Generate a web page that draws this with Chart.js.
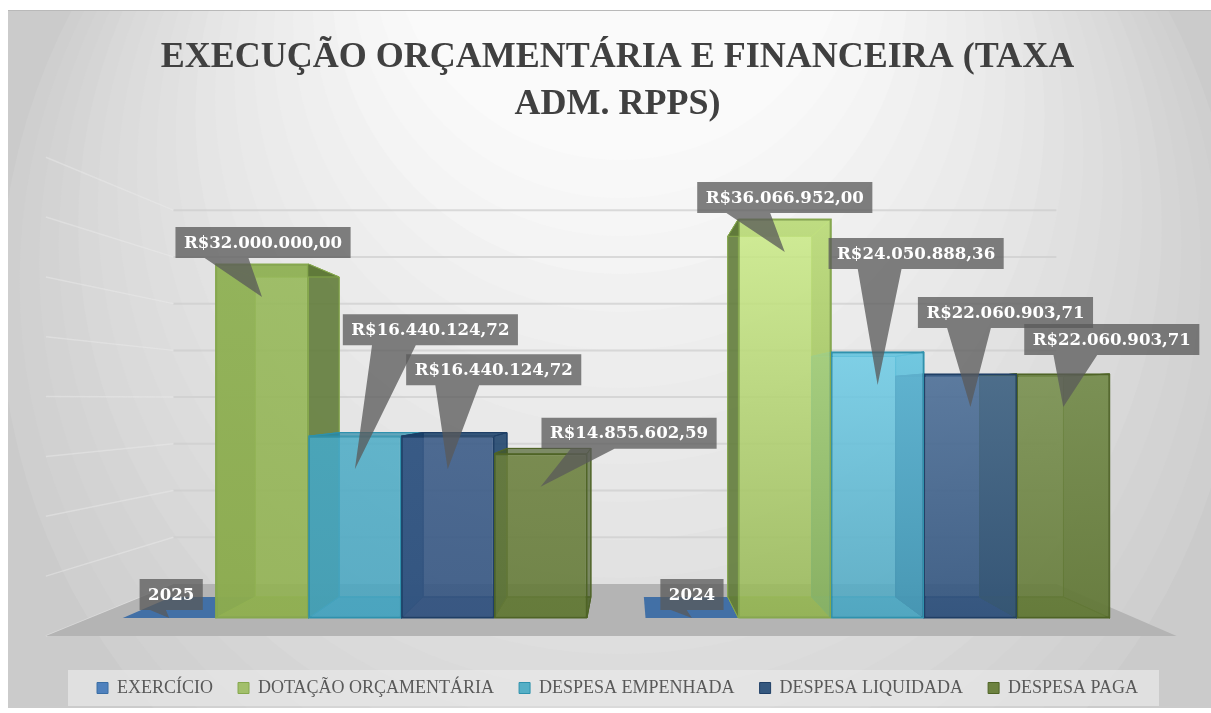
<!DOCTYPE html>
<html>
<head>
<meta charset="utf-8">
<title>Execução orçamentária e financeira</title>
<script src="https://cdn.jsdelivr.net/npm/chart.js@4"></script>
<style>
    html, body { margin: 0; padding: 0; background: #ffffff; overflow: hidden; }
    canvas { display: block; }
</style>
</head>
<body>
<canvas id="chart" width="1211" height="713"></canvas>
<script>
// Data
const categories = ['2025', '2024'];
const seriesNames = ['EXERCÍCIO', 'DOTAÇÃO ORÇAMENTÁRIA', 'DESPESA EMPENHADA', 'DESPESA LIQUIDADA', 'DESPESA PAGA'];
const exercicio = [2025, 2024];
const dotacao = [32000000, 36066952];
const empenhada = [16440124.72, 24050888.36];
const liquidada = [16440124.72, 22060903.71];
const paga = [14855602.59, 22060903.71];
const titleLines = ['EXECUÇÃO ORÇAMENTÁRIA E FINANCEIRA (TAXA', 'ADM. RPPS)'];

// Colours per series
const legendColors = ['#4f81bd', '#a2bf6b', '#55afc6', '#35587f', '#6d8240'];
const borderColors = ['#3a6ea5', '#86a84e', '#2f92ad', '#1f3f66', '#4f6426'];
const sideColors = ['rgba(63,110,165,0.95)', 'rgba(92,118,52,0.82)', 'rgba(40,135,165,0.6)', 'rgba(24,62,104,0.8)', 'rgba(70,90,38,0.55)'];
const backColors = ['rgba(63,110,165,0.95)', 'rgba(130,165,70,0.3)', 'rgba(80,170,195,0.3)', 'rgba(50,85,130,0.35)', 'rgba(100,125,55,0.3)'];
const floorColors = ['rgba(63,110,165,0.98)', 'rgba(120,150,60,0.75)', 'rgba(60,155,185,0.75)', 'rgba(40,70,115,0.75)', 'rgba(90,115,45,0.75)'];
// top / bottom of the front face, one pair for each category
const frontColors = [
    [['rgba(63,110,165,1)', 'rgba(63,110,165,1)'], ['rgba(63,110,165,1)', 'rgba(63,110,165,1)']],
    [['rgba(152,186,92,0.86)', 'rgba(146,178,82,0.86)'], ['rgba(208,240,140,0.8)', 'rgba(152,184,88,0.82)']],
    [['rgba(76,172,198,0.8)', 'rgba(72,165,192,0.82)'], ['rgba(112,206,232,0.8)', 'rgba(80,168,194,0.82)']],
    [['rgba(60,92,136,0.84)', 'rgba(54,86,130,0.86)'], ['rgba(78,112,152,0.84)', 'rgba(50,84,126,0.86)']],
    [['rgba(108,128,62,0.84)', 'rgba(100,122,56,0.86)'], ['rgba(120,144,78,0.84)', 'rgba(100,122,56,0.86)']]
];

// Callout box relative to its bar: centre dx from bar centre, box bottom dy from pointer tip
const calloutOffsets = [
    [[2, -8], [0, -8]],
    [[1, -39], [0, -39]],
    [[75.5, -124], [38.5, -116]],
    [[46, -84], [35, -79]],
    [[88.5, -38], [48.5, -52]]
];

// Perspective of the fake 3D box: vanishing point and depth of each plane
const vanish = { x: 628, y: 399 };
const depthBarBack = 0.904;
const depthWall = 0.845;
const depthFloorFront = 1.082;

function project(x, y, s) {
    return [vanish.x + (x - vanish.x) * s, vanish.y + (y - vanish.y) * s];
}

function fillPoly(ctx, points, fill, stroke) {
    ctx.beginPath();
    points.forEach((p, i) => (i ? ctx.lineTo(p[0], p[1]) : ctx.moveTo(p[0], p[1])));
    ctx.closePath();
    ctx.fillStyle = fill;
    ctx.fill();
    if (stroke) {
        ctx.strokeStyle = stroke;
        ctx.lineWidth = 1;
        ctx.stroke();
    }
}

function formatValue(datasetIndex, value) {
    if (datasetIndex === 0) return String(value);
    return 'R$' + value.toLocaleString('pt-BR', { minimumFractionDigits: 2, maximumFractionDigits: 2 });
}

// Banded background, white arc at the top and grey towards the edges
const backdropPlugin = {
    id: 'backdrop',
    beforeDraw(chart) {
        const ctx = chart.ctx;
        ctx.save();
        ctx.beginPath();
        ctx.rect(8, 11, 1203, 697);
        ctx.clip();
        ctx.fillStyle = '#cbcbcb';
        ctx.fillRect(0, 0, 1211, 713);
        const rings = 20;
        for (let i = rings; i >= 0; i--) {
            const t = i / rings;
            const shade = Math.round(250 - 43 * t);
            ctx.fillStyle = `rgb(${shade},${shade},${shade})`;
            ctx.beginPath();
            ctx.arc(620, -69 + 369 * t, 229 + 391 * t, 0, Math.PI * 2);
            ctx.fill();
        }
        ctx.restore();
        ctx.fillStyle = '#b9b9b9';
        ctx.fillRect(8, 10, 1203, 1);
        // legend band
        ctx.fillStyle = 'rgba(232,232,232,0.7)';
        ctx.fillRect(68, 670, 1091, 36);
    }
};

// Walls, floor and the side faces of the bars; the front faces are the chart's own bars
const boxPlugin = {
    id: 'box3d',
    beforeDatasetsDraw(chart) {
        const ctx = chart.ctx;
        const area = chart.chartArea;
        const yScale = chart.scales.y;
        const left = area.left - 3.5;
        const right = area.right - 4;
        const base = yScale.getPixelForValue(0);

        ctx.save();
        // gridlines on the back wall and the left wall
        yScale.ticks.forEach(tick => {
            const y = yScale.getPixelForValue(tick.value);
            const a = project(left, y, depthFloorFront);
            const b = project(left, y, depthWall);
            const c = project(right, y, depthWall);
            if (tick.value > 0) {
                ctx.strokeStyle = 'rgba(205,205,205,0.7)';
                ctx.lineWidth = 2;
                ctx.beginPath();
                ctx.moveTo(b[0], b[1]);
                ctx.lineTo(c[0], c[1]);
                ctx.stroke();
            }
            ctx.strokeStyle = 'rgba(236,236,236,0.45)';
            ctx.lineWidth = 1.5;
            ctx.beginPath();
            ctx.moveTo(a[0], a[1]);
            ctx.lineTo(b[0], b[1]);
            ctx.stroke();
        });
        // floor
        fillPoly(ctx, [
            project(left, base, depthWall),
            project(right, base, depthWall),
            project(right, base, depthFloorFront),
            project(left, base, depthFloorFront)
        ], '#b4b4b4');

        chart.data.datasets.forEach((ds, d) => {
            chart.getDatasetMeta(d).data.forEach(bar => {
                const x0 = bar.x - bar.width / 2;
                const x1 = bar.x + bar.width / 2;
                const top = bar.y;
                const bottom = bar.base;
                const tl = project(x0, top, depthBarBack);
                const tr = project(x1, top, depthBarBack);
                const bl = project(x0, bottom, depthBarBack);
                const br = project(x1, bottom, depthBarBack);
                const edge = borderColors[d];
                if (d > 0) fillPoly(ctx, [tl, tr, br, bl], backColors[d], edge);
                fillPoly(ctx, [[x0, bottom], [x1, bottom], br, bl], floorColors[d], d > 0 ? edge : null);
                if (d > 0) {
                    fillPoly(ctx, [[x0, top], tl, bl, [x0, bottom]], sideColors[d], edge);
                    fillPoly(ctx, [[x1, top], tr, br, [x1, bottom]], sideColors[d], edge);
                    fillPoly(ctx, [[x0, top], [x1, top], tr, tl], sideColors[d], edge);
                }
            });
        });
        ctx.restore();
    }
};

// Grey callouts with the values
const calloutPlugin = {
    id: 'callouts',
    afterDatasetsDraw(chart) {
        const ctx = chart.ctx;
        ctx.save();
        ctx.font = 'bold 16.6px "DejaVu Serif"';
        ctx.textAlign = 'center';
        ctx.textBaseline = 'middle';
        chart.data.datasets.forEach((ds, d) => {
            chart.getDatasetMeta(d).data.forEach((bar, i) => {
                const text = formatValue(d, ds.data[i]);
                const tipX = bar.x;
                const tipY = Math.min(bar.y + 33, bar.base);
                const off = calloutOffsets[d][i];
                const w = ctx.measureText(text).width + 17;
                const h = 31;
                const boxLeft = tipX + off[0] - w / 2;
                const boxBottom = tipY + off[1];
                ctx.beginPath();
                ctx.moveTo(boxLeft, boxBottom - h);
                ctx.lineTo(boxLeft + w, boxBottom - h);
                ctx.lineTo(boxLeft + w, boxBottom);
                ctx.lineTo(boxLeft + w * 0.4167, boxBottom);
                ctx.lineTo(tipX, tipY);
                ctx.lineTo(boxLeft + w * 0.1667, boxBottom);
                ctx.lineTo(boxLeft, boxBottom);
                ctx.closePath();
                ctx.fillStyle = 'rgba(89,89,89,0.76)';
                ctx.fill();
                ctx.fillStyle = '#ffffff';
                ctx.fillText(text, boxLeft + w / 2, boxBottom - h / 2 + 1);
            });
        });
        ctx.restore();
    }
};

function frontFill(d) {
    return context => {
        if (context.dataIndex === undefined) return legendColors[d];
        const yScale = context.chart.scales.y;
        const pair = frontColors[d][context.dataIndex];
        const g = context.chart.ctx.createLinearGradient(0, yScale.getPixelForValue(context.raw), 0, yScale.getPixelForValue(0));
        g.addColorStop(0, pair[0]);
        g.addColorStop(1, pair[1]);
        return g;
    };
}

const seriesValues = [exercicio, dotacao, empenhada, liquidada, paga];

new Chart(document.getElementById('chart').getContext('2d'), {
    type: 'bar',
    data: {
        labels: categories,
        datasets: seriesNames.map((name, d) => ({
            label: name,
            data: seriesValues[d],
            backgroundColor: frontFill(d),
            borderColor: borderColors[d],
            borderWidth: d === 0 ? 0 : 1.5,
            borderSkipped: false,
            categoryPercentage: 0.888,
            barPercentage: 1
        }))
    },
    options: {
        responsive: false,
        animation: false,
        layout: { padding: { left: 24, right: 0, top: 0, bottom: 6 } },
        scales: {
            x: {
                ticks: { display: false },
                grid: { display: false },
                border: { display: false },
                afterFit(scale) { scale.height = 36; }
            },
            y: {
                min: 0,
                max: 40000000,
                ticks: { stepSize: 5000000, display: false },
                grid: { display: false },
                border: { display: false },
                afterFit(scale) { scale.width = 69.5; }
            },
            // empty axis, only holds the margin on the right of the bars
            yRight: {
                position: 'right',
                ticks: { display: false },
                grid: { display: false },
                border: { display: false },
                afterFit(scale) { scale.width = 72; }
            }
        },
        plugins: {
            tooltip: { enabled: false },
            title: {
                display: true,
                text: titleLines,
                color: '#404040',
                font: { family: '"Liberation Serif"', size: 36, weight: 'bold', lineHeight: 1.306 },
                padding: { top: 34, bottom: 47.5 }
            },
            legend: {
                position: 'bottom',
                labels: {
                    color: '#595959',
                    font: { family: '"Liberation Serif"', size: 18 },
                    boxWidth: 11,
                    boxHeight: 11,
                    padding: 25,
                    generateLabels: chart => chart.data.datasets.map((ds, d) => ({
                        text: ds.label,
                        fillStyle: legendColors[d],
                        strokeStyle: borderColors[d],
                        lineWidth: 1,
                        fontColor: '#595959',
                        datasetIndex: d
                    }))
                }
            }
        }
    },
    plugins: [backdropPlugin, boxPlugin, calloutPlugin]
});
</script>
</body>
</html>
